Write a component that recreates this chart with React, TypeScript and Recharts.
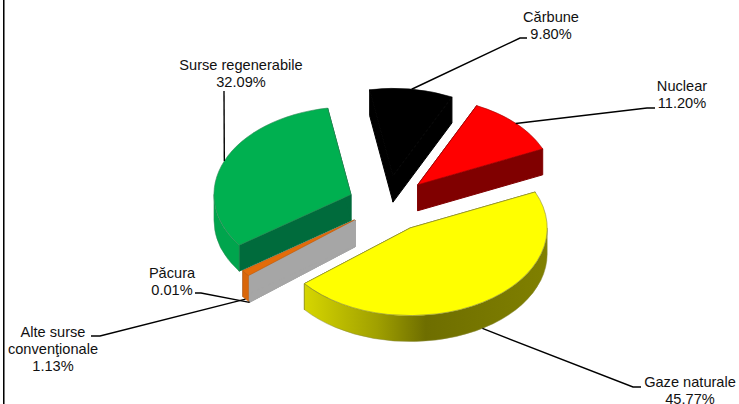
import { PieChart, Pie, Cell } from "recharts";

const names = ["Cărbune", "Nuclear", "Gaze naturale", "Păcura", "Alte surse|convenţionale", "Surse regenerabile"];
const shares = [9.8, 11.2, 45.77, 0.01, 1.13, 32.09];
const shareLabels = ["9.80%", "11.20%", "45.77%", "0.01%", "1.13%", "32.09%"];

const data = names.map((name, i) => ({ name, value: shares[i], text: shareLabels[i] }));

// 3d look of the excel chart
const TILT = 0.64;
const DEPTH = 26;
const RAD = Math.PI / 180;

const explode = [44, 43, 44, 41, 41, 39];
const topColors = ["#000000", "#ff0000", "#ffff00", "#a6a6a6", "#e36c0a", "#00b050"];
const wallColors = ["#000000", "#800000", "#808000", "#a6a6a6", "#a6a6a6", "#006b3c"];
const arcColors = ["#000000", "#800000", "url(#yellowWall)", "#a6a6a6", "#d9660a", "#00a54d"];
const edgeColors = ["#000000", "#a00000", "#8c8c40", "#7a3b10", "#c05a08", "#2f8a55"];

// label box: centre x, first baseline, elbow point of the leader
const labelPos = [
  { x: 551, y: 22, elbow: [527, 38, 520, 38], low: false },
  { x: 682, y: 91, elbow: [655, 108, 647, 108], low: false },
  { x: 690, y: 386.5, elbow: [641, 387, 633, 387], low: true },
  { x: 172, y: 278, elbow: [195, 293, 201, 293], low: true },
  { x: 53, y: 337, elbow: [91, 336, 100, 336], low: true },
  { x: 241, y: 70, elbow: [224, 91, 224, 91], low: false },
];

const project = (ax: number, ay: number, r: number, deg: number) => [
  ax + r * Math.cos(deg * RAD),
  ay - r * TILT * Math.sin(deg * RAD),
];

const apexOf = (cx: number, cy: number, i: number, mid: number) => project(cx, cy, explode[i], mid);

function arcPath(ax: number, ay: number, r: number, from: number, to: number, dy: number) {
  const [x, y] = project(ax, ay + dy, r, to);
  const large = Math.abs(to - from) > 180 ? 1 : 0;
  const sweep = to < from ? 1 : 0;
  return `A${r} ${r * TILT} 0 ${large} ${sweep} ${x} ${y}`;
}

function Slice3D(props: any) {
  const { cx, cy, outerRadius: r, startAngle, endAngle, index } = props;
  const mid = (startAngle + endAngle) / 2;
  const [ax, ay] = apexOf(cx, cy, index, mid);
  const [sx, sy] = project(ax, ay, r, startAngle);
  const [ex, ey] = project(ax, ay, r, endAngle);

  // part of the rim that faces the viewer: lower half of the ellipse
  const lo = Math.max(endAngle, -180);
  const hi = Math.min(startAngle, 0);
  const showRim = hi > lo;
  const [rx, ry] = project(ax, ay, r, hi);
  const [qx, qy] = project(ax, ay, r, lo);

  const wall = (x: number, y: number) =>
    `M${ax} ${ay}L${x} ${y}L${x} ${y + DEPTH}L${ax} ${ay + DEPTH}Z`;

  return (
    <g>
      <path d={wall(sx, sy)} fill={wallColors[index]} stroke={wallColors[index]} strokeWidth={1} />
      <path d={wall(ex, ey)} fill={wallColors[index]} stroke={wallColors[index]} strokeWidth={1} />
      {showRim && (
        <path
          d={`M${rx} ${ry}${arcPath(ax, ay, r, hi, lo, 0)}L${qx} ${qy + DEPTH}${arcPath(ax, ay, r, lo, hi, DEPTH)}Z`}
          fill={arcColors[index]}
          stroke={edgeColors[index]}
          strokeWidth={0.5}
        />
      )}
      <path
        d={`M${ax} ${ay}L${sx} ${sy}${arcPath(ax, ay, r, startAngle, endAngle, 0)}Z`}
        fill={topColors[index]}
        stroke={edgeColors[index]}
        strokeWidth={0.6}
        strokeLinejoin="round"
      />
    </g>
  );
}

function SliceLabel(props: any) {
  const { cx, cy, outerRadius: r, startAngle, endAngle, index } = props;
  const mid = (startAngle + endAngle) / 2;
  const [ax, ay] = apexOf(cx, cy, index, mid);
  const [tx, ty] = project(ax, ay + (labelPos[index].low ? DEPTH : 0), r, mid);
  const pos = labelPos[index];
  const lines = [...names[index].split("|"), shareLabels[index]];
  return (
    <g>
      <polyline
        points={`${pos.elbow[0]},${pos.elbow[1]} ${pos.elbow[2]},${pos.elbow[3]} ${tx},${ty}`}
        fill="none"
        stroke="#000"
        strokeWidth={1.4}
      />
      <text textAnchor="middle" fontFamily="Liberation Sans" fontSize={14.6} fill="#111">
        {lines.map((line, i) => (
          <tspan key={line} x={pos.x} y={pos.y + i * 17}>
            {line}
          </tspan>
        ))}
      </text>
    </g>
  );
}

export default function App() {
  return (
    <div style={{ position: "absolute", left: 0, top: 0, width: 739, height: 404, overflow: "hidden" }}>
      <div
        style={{ position: "absolute", left: 3, top: 0, width: 1, height: 404, background: "#000", boxShadow: "1px 0 0 #777" }}
      />
      <PieChart width={739} height={404} margin={{ top: 0, right: 0, bottom: 0, left: 0 }}>
        <defs>
          <linearGradient id="yellowWall" x1="0" y1="0" x2="1" y2="0">
            <stop offset="0%" stopColor="#d6d600" />
            <stop offset="30%" stopColor="#a0a000" />
            <stop offset="50%" stopColor="#6e6e00" />
            <stop offset="100%" stopColor="#808000" />
          </linearGradient>
        </defs>
        <Pie
          data={data}
          dataKey="value"
          nameKey="name"
          cx={387}
          cy={204}
          innerRadius={0}
          outerRadius={137}
          startAngle={99.8}
          endAngle={-260.2}
          paddingAngle={0}
          minAngle={0}
          shape={Slice3D}
          label={SliceLabel}
          labelLine={false}
          isAnimationActive={false}
        >
          {data.map((d, i) => (
            <Cell key={d.name} fill={topColors[i]} />
          ))}
        </Pie>
      </PieChart>
    </div>
  );
}
